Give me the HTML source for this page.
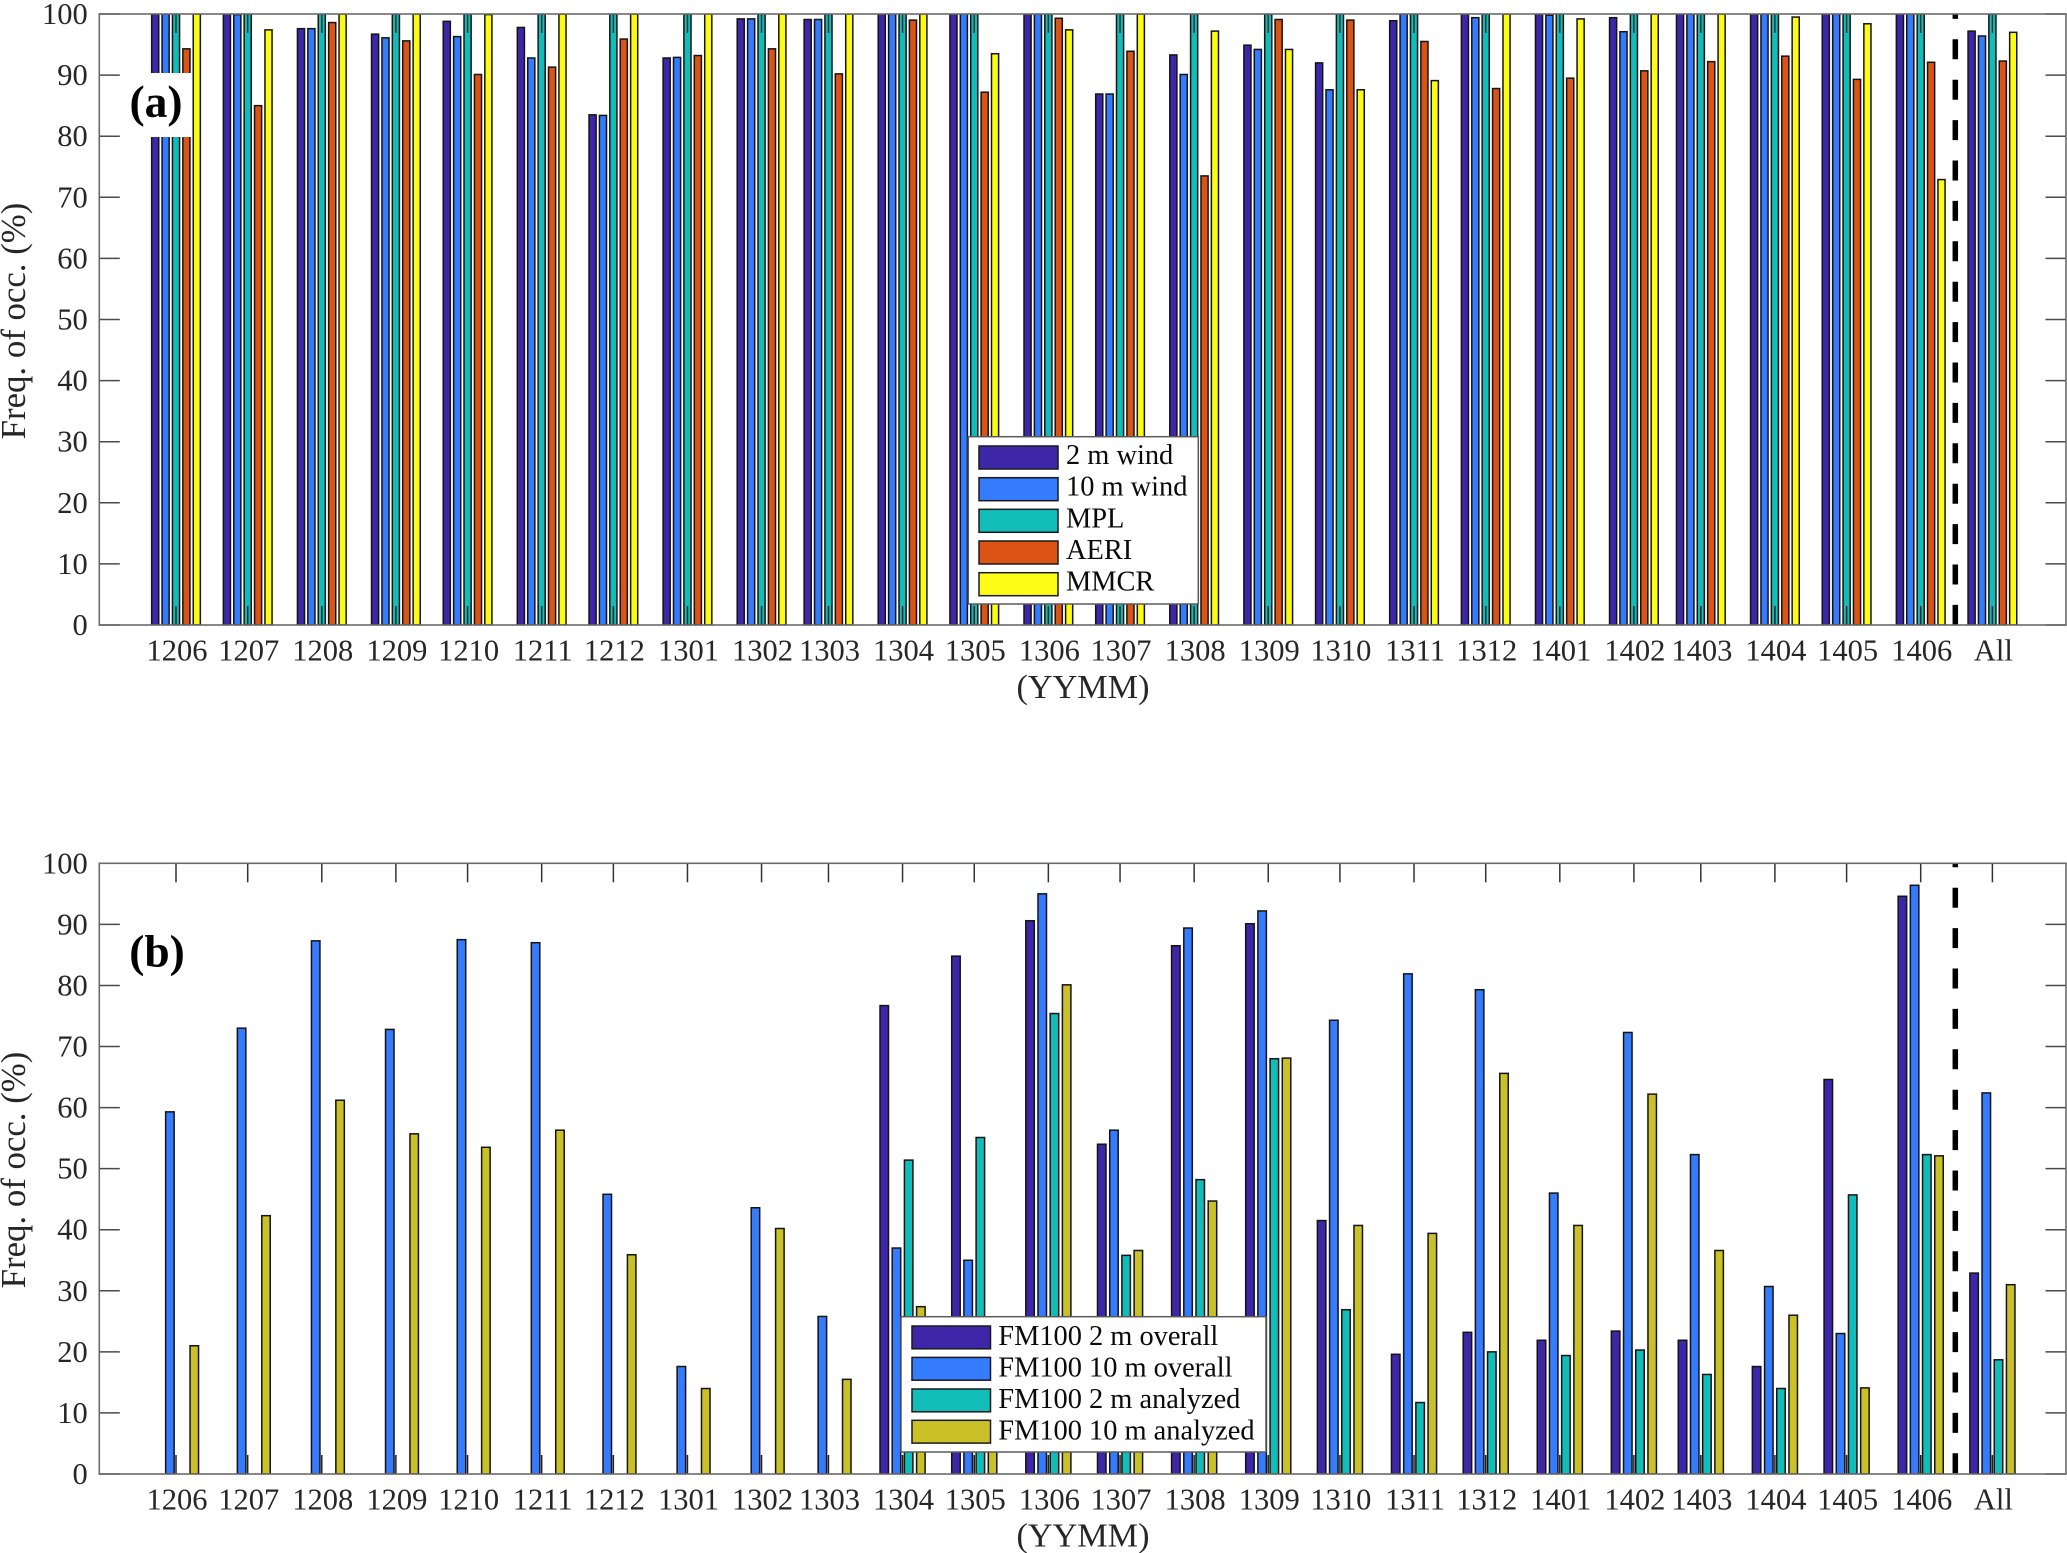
<!DOCTYPE html>
<html lang="en">
<head>
<meta charset="utf-8">
<title>Frequency of occurrence by month</title>
<style>
html,body{margin:0;padding:0;background:#fff;}
body{width:2067px;height:1553px;overflow:hidden;}
svg{display:block;font-family:"Liberation Serif","Times New Roman",serif;}
.tick-label{font-size:30.5px;fill:#262626;}
.x-title{font-size:34.2px;fill:#262626;}
.y-title{font-size:34.8px;fill:#262626;}
.legend-text{font-size:28.4px;fill:#0a0a0a;}
.panel-tag{font-size:45.5px;font-weight:bold;fill:#000;}
</style>
</head>
<body>
<svg id="chart" xmlns="http://www.w3.org/2000/svg" width="2067" height="1553" viewBox="0 0 2067 1553">
  <rect x="0" y="0" width="2067" height="1553" fill="#fff"/>
  <g id="panel-a"></g>
  <g id="panel-b"></g>

  <text class="x-title" x="1083" y="698" text-anchor="middle">(YYMM)</text>
  <text class="y-title" transform="translate(25,321) rotate(-90)" text-anchor="middle">Freq. of occ. (%)</text>
  <text class="x-title" x="1083" y="1546.5" text-anchor="middle">(YYMM)</text>
  <text class="y-title" transform="translate(25,1170) rotate(-90)" text-anchor="middle">Freq. of occ. (%)</text>

  <rect x="127" y="73" width="65" height="64" fill="#fff"/>
  <text class="panel-tag" x="156" y="117" text-anchor="middle">(a)</text>
  <text class="panel-tag" x="157" y="966.5" text-anchor="middle">(b)</text>

  <g>
    <rect x="968.3" y="436.7" width="230" height="167.3" fill="#fff" stroke="#5a5a5a" stroke-width="1.5"/>
    <g>
      <rect x="979" y="446" width="79" height="23" fill="#3d26a8" stroke="#1a1a1a" stroke-width="1.5"/>
      <text class="legend-text" x="1066" y="464">2 m wind</text>
    </g>
    <g>
      <rect x="979" y="477.7" width="79" height="23" fill="#347bfd" stroke="#1a1a1a" stroke-width="1.5"/>
      <text class="legend-text" x="1066" y="495.7">10 m wind</text>
    </g>
    <g>
      <rect x="979" y="509.3" width="79" height="23" fill="#12bdb9" stroke="#1a1a1a" stroke-width="1.5"/>
      <text class="legend-text" x="1066" y="527.3">MPL</text>
    </g>
    <g>
      <rect x="979" y="541" width="79" height="23" fill="#dc5414" stroke="#1a1a1a" stroke-width="1.5"/>
      <text class="legend-text" x="1066" y="559">AERI</text>
    </g>
    <g>
      <rect x="979" y="572.7" width="79" height="23" fill="#fbfb14" stroke="#1a1a1a" stroke-width="1.5"/>
      <text class="legend-text" x="1066" y="590.7">MMCR</text>
    </g>
  </g>

  <g>
    <rect x="901" y="1316.7" width="365" height="135.3" fill="#fff" stroke="#5a5a5a" stroke-width="1.5"/>
    <g>
      <rect x="912" y="1326" width="78.5" height="22.8" fill="#3d26a8" stroke="#1a1a1a" stroke-width="1.5"/>
      <text class="legend-text" x="998.3" y="1345">FM100 2 m overall</text>
    </g>
    <g>
      <rect x="912" y="1357.4" width="78.5" height="22.8" fill="#347bfd" stroke="#1a1a1a" stroke-width="1.5"/>
      <text class="legend-text" x="998.3" y="1376.4">FM100 10 m overall</text>
    </g>
    <g>
      <rect x="912" y="1389" width="78.5" height="22.8" fill="#12bdb9" stroke="#1a1a1a" stroke-width="1.5"/>
      <text class="legend-text" x="998.3" y="1408">FM100 2 m analyzed</text>
    </g>
    <g>
      <rect x="912" y="1420.3" width="78.5" height="22.8" fill="#c9c127" stroke="#1a1a1a" stroke-width="1.5"/>
      <text class="legend-text" x="998.3" y="1439.3">FM100 10 m analyzed</text>
    </g>
  </g>
</svg>

<script>
// ----- categories and axis data -----
const categories = ["1206","1207","1208","1209","1210","1211","1212","1301","1302","1303","1304","1305","1306","1307","1308","1309","1310","1311","1312","1401","1402","1403","1404","1405","1406","All"];
const monthLengthDays = [30,31,31,30,31,30,31,31,28,31,30,31,30,31,31,30,31,30,31,31,28,31,30,31,30];
const yTickLabels = [0,10,20,30,40,50,60,70,80,90,100];

// ----- panel (a) series -----
const wind2m  = [100,100,97.6,96.7,98.8,97.8,83.5,92.8,99.2,99.1,100,100,100,86.9,93.3,94.9,92,98.9,100,100,99.4,100,100,100,100,97.2];
const wind10m = [100,99.9,97.6,96.1,96.3,92.8,83.4,92.9,99.2,99.1,100,100,100,86.9,90.1,94.2,87.6,100,99.4,99.8,97.1,100,100,100,100,96.4];
const mpl     = [100,100,100,100,100,100,100,100,100,100,100,100,100,100,100,100,100,100,100,100,100,100,100,100,100,100];
const aeri    = [94.3,85,98.6,95.6,90.1,91.3,95.9,93.2,94.3,90.2,99,87.2,99.3,93.9,73.5,99.1,99,95.5,87.8,89.5,90.7,92.2,93.1,89.3,92.1,92.3];
const mmcr    = [100,97.4,100,100,99.9,100,100,100,100,100,100,93.5,97.4,100,97.2,94.2,87.6,89.1,100,99.2,100,100,99.5,98.4,72.9,97];

// ----- panel (b) series -----
const fm2mOverall   = [0,0,0,0,0,0,0,0,0,0,76.7,84.8,90.6,54,86.5,90.1,41.5,19.6,23.2,21.9,23.4,21.9,17.6,64.6,94.6,32.9];
const fm10mOverall  = [59.3,73,87.3,72.8,87.5,87,45.8,17.6,43.6,25.8,37,35,95,56.3,89.4,92.2,74.3,81.9,79.3,46,72.3,52.3,30.7,23,96.4,62.4];
const fm2mAnalyzed  = [0,0,0,0,0,0,0,0,0,0,51.4,55.1,75.4,35.8,48.2,68,26.9,11.7,20,19.4,20.3,16.3,14,45.7,52.3,18.7];
const fm10mAnalyzed = [21,42.3,61.2,55.7,53.5,56.3,35.9,14,40.2,15.5,27.4,15,80.1,36.6,44.7,68.1,40.7,39.4,65.6,40.7,62.2,36.6,26,14.1,52.1,31];

// ----- layout -----
const SVGNS = "http://www.w3.org/2000/svg";
const plotLeft = 99.3, plotRight = 2066;
const pxPerDay = 2.39, firstTickX = 176;

function dayOffset(i) {
  let d = 0;
  for (let k = 0; k < i; k++) d += monthLengthDays[k];
  return d;
}
function xScale(i) { return firstTickX + pxPerDay * dayOffset(i); }

function make(tag, attrs, parent) {
  const n = document.createElementNS(SVGNS, tag);
  for (const k in attrs) n.setAttribute(k, attrs[k]);
  parent.appendChild(n);
  return n;
}

function drawPanel(cfg) {
  const root = document.getElementById(cfg.id);
  const yScale = v => cfg.bottom - (cfg.bottom - cfg.top) * v / 100;
  const clipId = cfg.id + "-clip";
  const defs = make("defs", {}, root);
  const clip = make("clipPath", {id: clipId}, defs);
  make("rect", {x: plotLeft, y: cfg.top, width: plotRight - plotLeft, height: cfg.bottom - cfg.top}, clip);

  // bars
  const barsGroup = make("g", {"clip-path": "url(#" + clipId + ")"}, root);
  
  
  const n = cfg.series.length;
  cfg.series.forEach(function (s, si) {
    const seriesGroup = make("g", {fill: s.color, stroke: "#141414", "stroke-width": 1.5}, barsGroup);
    
    
    s.values.forEach(function (v, ci) {
      const cx = xScale(ci) + (si - (n - 1) / 2) * cfg.pitch;
      const bar = make("rect", {
        x: cx - cfg.barWidth / 2 + 0.75,
        y: yScale(v),
        width: cfg.barWidth - 1.5,
        height: Math.max(0, cfg.bottom - yScale(v))
      }, seriesGroup);
      if (v <= 0) bar.setAttribute("stroke", "none");
      
      
    });
  });

  // dashed separator between the months and "All"
  const sep = make("line", {
    x1: cfg.sepX, x2: cfg.sepX, y1: cfg.top, y2: cfg.bottom,
    stroke: "#000", "stroke-width": 5.5,
    "stroke-dasharray": "20 20.4", "stroke-dashoffset": cfg.sepOffset
  }, root);
  
  

  // ticks
  const ticks = make("g", {stroke: "#4a4a4a", "stroke-width": 1.5, fill: "none"}, root);
  
  
  categories.forEach(function (c, i) {
    const x = xScale(i);
    const t1 = make("line", {x1: x, x2: x, y1: cfg.top, y2: cfg.top + 19, stroke: "#333"}, ticks);
    
    
    const t2 = make("line", {x1: x, x2: x, y1: cfg.bottom, y2: cfg.bottom - 19, stroke: "#222"}, ticks);
    
    
  });
  yTickLabels.forEach(function (v) {
    const y = yScale(v);
    const t1 = make("line", {x1: plotLeft, x2: plotLeft + 20.5, y1: y, y2: y}, ticks);
    
    
    const t2 = make("line", {x1: plotRight, x2: plotRight - 20.5, y1: y, y2: y}, ticks);
    
    
  });

  // frame
  const frame = make("rect", {
    x: plotLeft, y: cfg.top, width: plotRight - plotLeft, height: cfg.bottom - cfg.top,
    fill: "none", stroke: "#6a6a6a", "stroke-width": 1.6
  }, root);
  
  

  // tick labels
  categories.forEach(function (c, i) {
    const t = make("text", {"class": "tick-label", x: xScale(i) + 1, y: cfg.bottom + 35.5, "text-anchor": "middle"}, root);
    t.textContent = c;
    
    
  });
  yTickLabels.forEach(function (v) {
    const t = make("text", {"class": "tick-label", x: 87.7, y: yScale(v) + 10, "text-anchor": "end"}, root);
    t.textContent = v;
    
    
  });
}

drawPanel({
  id: "panel-a", top: 14, bottom: 625, pitch: 10.4, barWidth: 8.6,
  sepX: 1955.3, sepOffset: 15.1,
  series: [
    {name: "2m-wind",  color: "#3d26a8", values: wind2m},
    {name: "10m-wind", color: "#347bfd", values: wind10m},
    {name: "mpl",      color: "#12bdb9", values: mpl},
    {name: "aeri",     color: "#dc5414", values: aeri},
    {name: "mmcr",     color: "#fbfb14", values: mmcr}
  ]
});
drawPanel({
  id: "panel-b", top: 863.3, bottom: 1474, pitch: 12.2, barWidth: 10,
  sepX: 1955.3, sepOffset: 16,
  series: [
    {name: "fm100-2m-overall",   color: "#3d26a8", values: fm2mOverall},
    {name: "fm100-10m-overall",  color: "#347bfd", values: fm10mOverall},
    {name: "fm100-2m-analyzed",  color: "#12bdb9", values: fm2mAnalyzed},
    {name: "fm100-10m-analyzed", color: "#c9c127", values: fm10mAnalyzed}
  ]
});
</script>
</body>
</html>
